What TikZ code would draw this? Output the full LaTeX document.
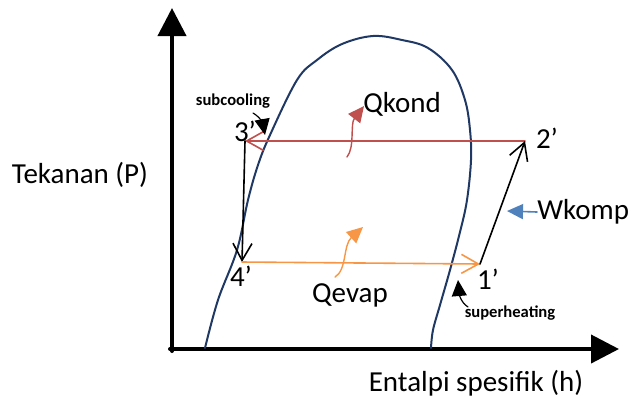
\documentclass[tikz,border=0pt]{standalone}
\usepackage{fontspec}
\setmainfont{Carlito}
\usetikzlibrary{arrows.meta}

\definecolor{domeblue}{RGB}{32,56,100}
\definecolor{kondred}{RGB}{192,80,77}
\definecolor{evaporange}{RGB}{247,150,70}
\definecolor{kompblue}{RGB}{79,129,189}

\tikzset{
  biglabel/.style={font=\fontsize{14.5}{17}\selectfont, inner sep=0pt},
  smalllabel/.style={font=\fontsize{8.3}{10}\selectfont\bfseries, inner sep=0pt},
  openhead/.style={-{Straight Barb[length=8.5pt,width=9.5pt]}},
  heathead/.style={-{Triangle[length=8pt,width=7.5pt]}},
}

\begin{document}
\begin{tikzpicture}[x=0.5pt, y=-0.5pt, line cap=round, line join=round]
		\useasboundingbox (0,0) rectangle (630,398);
		
		% ---------- axes ----------
		\draw[line width=2pt, -{Triangle[length=14pt,width=14pt]}]
		(172,351) -- (172,8);
		\draw[line width=2pt, -{Triangle[length=14pt,width=14pt]}]
		(170,349) -- (619,349);
		\node[biglabel] (ylabel) at (80,175) {Tekanan (P)};
		\node[biglabel] (xlabel) at (476,383) {Entalpi spesifik (h)};
		
		% ---------- saturation dome ----------
		\draw[domeblue, line width=1pt] plot[smooth, tension=0.6] coordinates {
			(205,348) (218,300) (237,250) (248,200) (258,165) (270,135)
			(297,80) (317,60) (342,44) (373,36) (402,40) (428,48)
			(452,70) (465,100) (470,130) (471,160) (467,200) (460,232)
			(450,270) (440,305) (433,330) (431,348)};
		
		% cycle points
		\coordinate (p1) at (480,264);
		\coordinate (p2) at (525,141);
		\coordinate (p3) at (245,141);
		\coordinate (p4) at (242,262);
		
		% ---------- process lines ----------
		\draw[kondred, line width=0.8pt, openhead] (p2) -- (p3);
		\draw[line width=0.8pt, openhead] (p3) -- (p4);
		\draw[evaporange, line width=0.8pt, openhead] (p4) -- (p1);
		\draw[line width=0.8pt, openhead] (p1) -- (p2);
		
		% point labels
		\node[biglabel] (n3) at (245,131) {3’};
		\node[biglabel] (n2) at (547,138) {2’};
		\node[biglabel] (n4) at (241,276) {4’};
		\node[biglabel] (n1) at (488,279) {1’};
		
		% ---------- heat and work ----------
		\node[biglabel] (qkond) at (402,104) {Qkond};
		\draw[kondred, line width=0.7pt, heathead]
		(347,157) .. controls (355,147) and (350,124) .. (364,106);
		
		\node[biglabel] (qevap) at (350,295) {Qevap};
		\draw[evaporange, line width=0.7pt, heathead]
		(335,277) .. controls (347,270) and (343,245) .. (363,227);
		
		\node[biglabel, anchor=west] (wkomp) at (537,212) {Wkomp};
		\draw[kompblue, line width=0.8pt, heathead] (wkomp.west) -- (507,211);
		
		% ---------- sub / superheating ----------
		\node[smalllabel] (subc) at (233,101) {subcooling};
		\draw[line width=0.6pt, heathead]
		(253,113) .. controls (260,117) and (263,124) .. (265,135);
		
		\node[smalllabel] (superh) at (510,313) {superheating};
		\draw[line width=0.6pt, heathead]
		(468,307) .. controls (460,302) and (459,292) .. (458,280);
		
	\end{tikzpicture}
\end{document}
